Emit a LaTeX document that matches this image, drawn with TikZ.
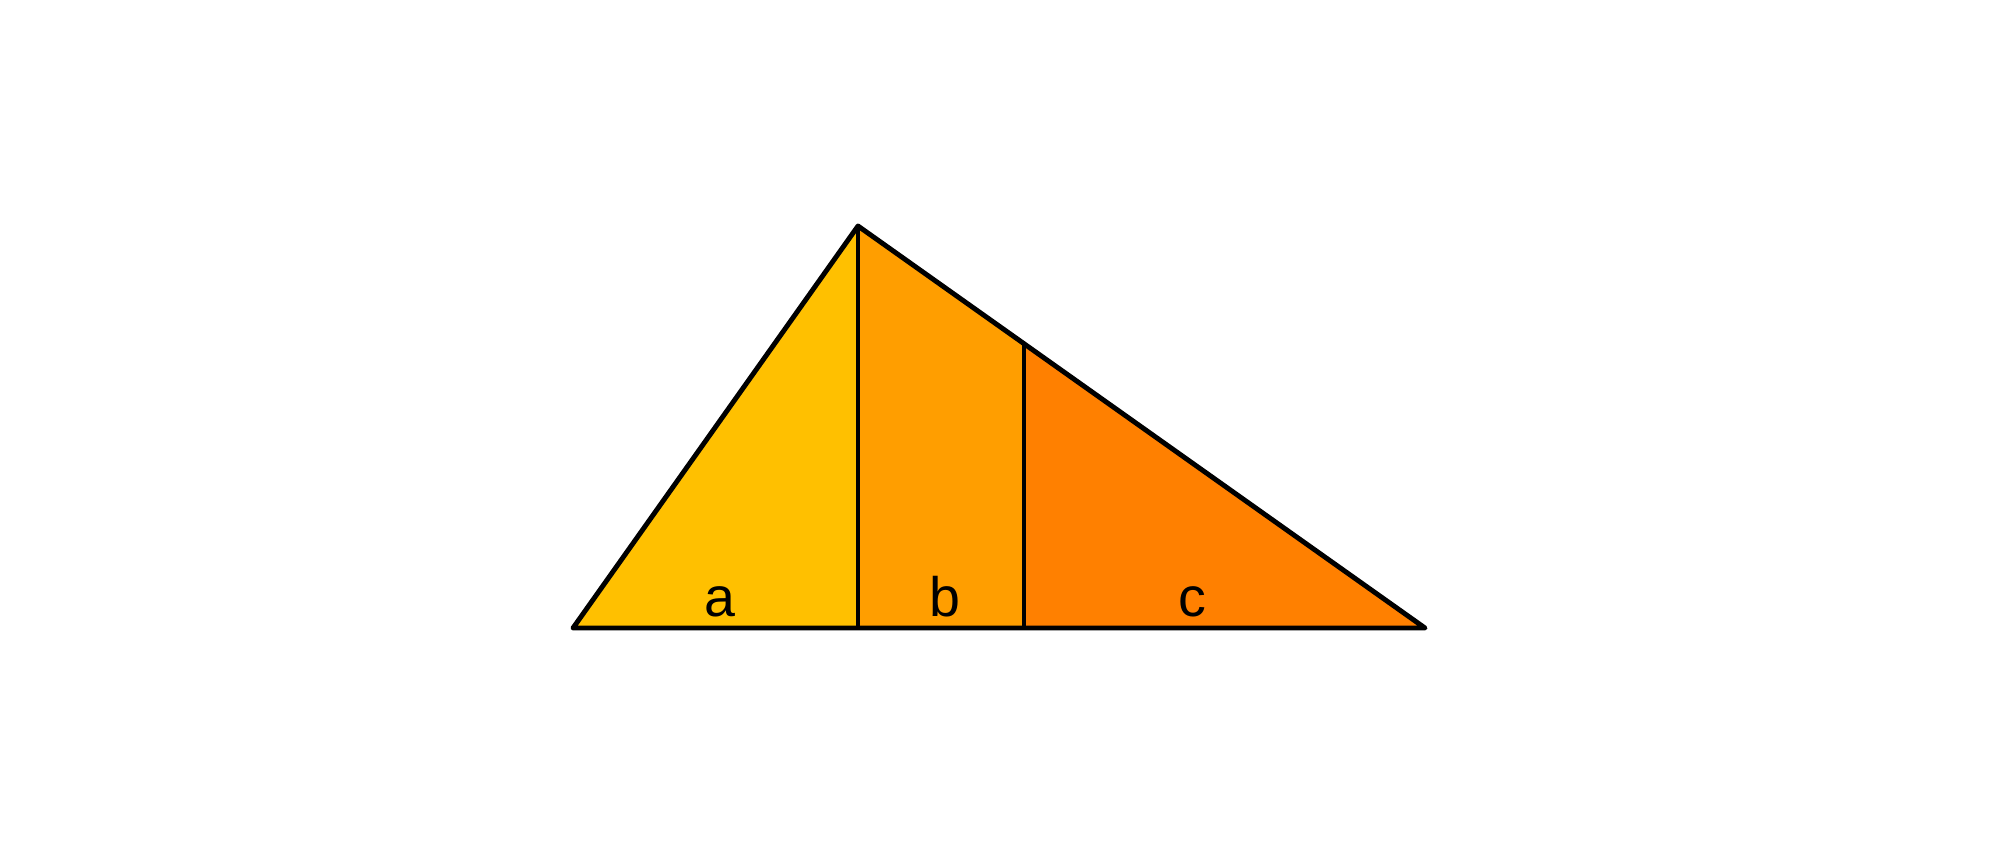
\documentclass[tikz,border=0pt]{standalone}
\usepackage{fontspec}
\setmainfont{Liberation Sans}
\usetikzlibrary{positioning}

\definecolor{partA}{RGB}{255,192,0}
\definecolor{partB}{RGB}{255,158,0}
\definecolor{partC}{RGB}{255,128,0}

\begin{document}
\begin{tikzpicture}[x=0.01cm, y=-0.01cm,
% Piece style
		piece/.style={draw=black
							    , line width=1.4pt
							    , line join=round},
% Label style
		plabel/.style={anchor=base
							    , font=\fontsize{15.8}{18}\selectfont
							    , inner sep=0pt}
	]
	\useasboundingbox (0,0) rectangle (2000,857);
%% Corners of the triangle
		\coordinate (left)  at (573,628);
		\coordinate (apex)  at (858,226);
		\coordinate (right) at (1425,628);
		\coordinate (foot1) at (858,628);
		\coordinate (cut)   at (1024,343);
		\coordinate (foot2) at (1024,628);
%% Draw pieces
		\fill [partA] (left) -- (apex) -- (foot1) -- cycle;
		\fill [partB] (foot1) -- (apex) -- (cut) -- (foot2) -- cycle;
		\fill [partC] (foot2) -- (cut) -- (right) -- cycle;
		\draw [piece] (left) -- (apex) -- (right) -- cycle;
		\draw [piece] (apex) -- (foot1);
		\draw [piece] (cut) -- (foot2);
%% Labels
		\node [plabel] (la) at (720,616) {a};
		\node [plabel] (lb) at (945,616) {b};
		\node [plabel] (lc) at (1192,616) {c};
\end{tikzpicture}
\end{document}
